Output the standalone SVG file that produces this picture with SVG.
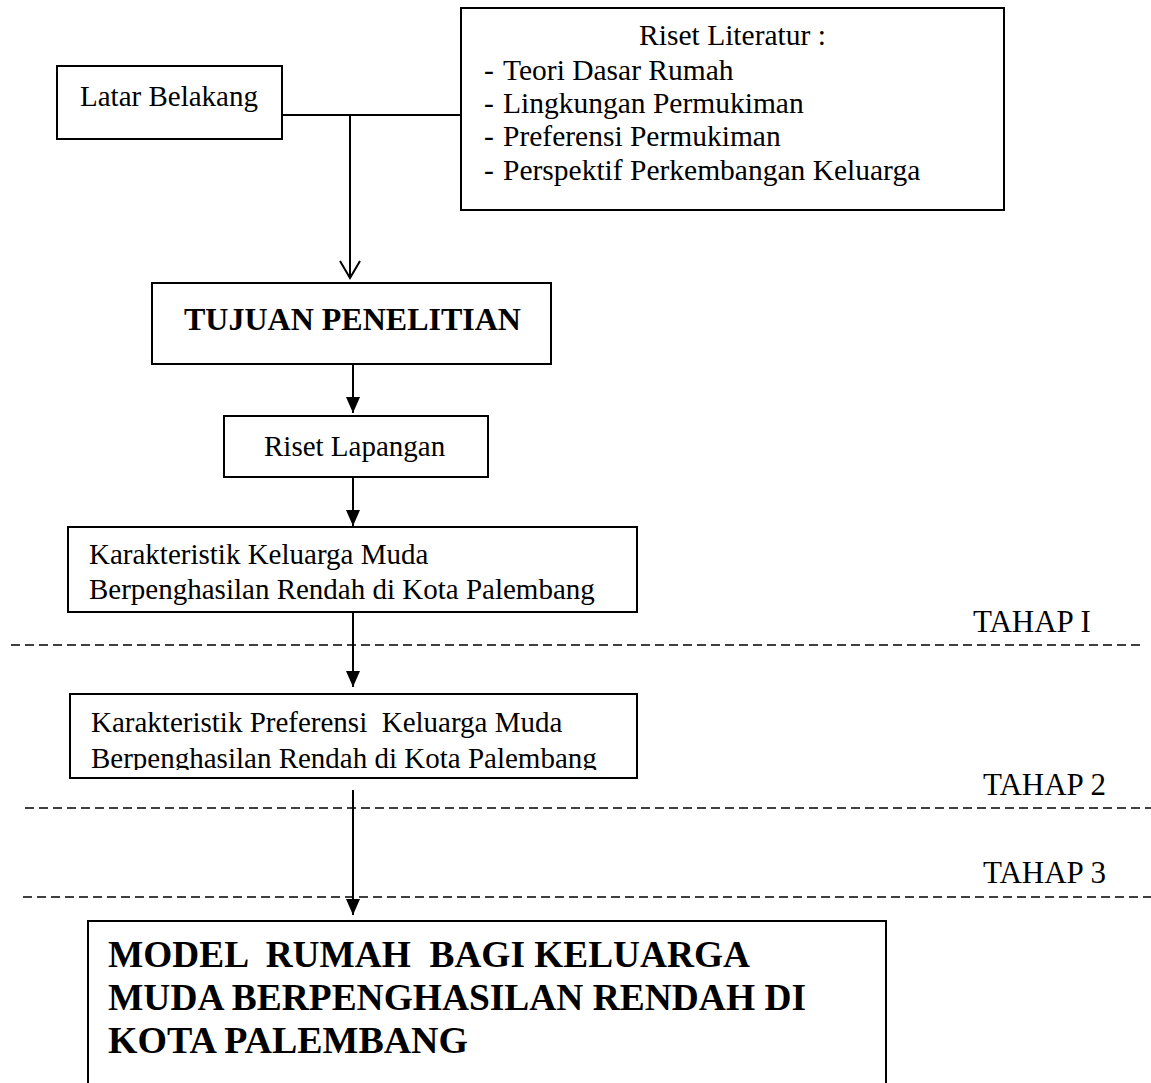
<svg xmlns="http://www.w3.org/2000/svg" width="1151" height="1083" viewBox="0 0 1151 1083">
<style>
.box{fill:#fff;stroke:#000;stroke-width:2}
.t{font-family:"Liberation Serif","Times New Roman",serif;font-size:29px;fill:#000}
.li{font-family:"Liberation Serif","Times New Roman",serif;font-size:29.5px;fill:#000}
.th{font-family:"Liberation Serif","Times New Roman",serif;font-size:31px;fill:#000}
.b{font-family:"Liberation Serif","Times New Roman",serif;font-weight:bold;fill:#000}
.ln{stroke:#000;stroke-width:2;fill:none}
.dash{stroke:#000;stroke-width:1.5;stroke-dasharray:9 5;fill:none}
</style>
<defs>
<marker id="tri" markerUnits="userSpaceOnUse" viewBox="0 0 16 14" markerWidth="16" markerHeight="14" refX="16" refY="7" orient="auto">
<path d="M0,0 L16,7 L0,14 z" fill="#000"/>
</marker>
<marker id="vee" markerUnits="userSpaceOnUse" viewBox="0 0 20 24" markerWidth="20" markerHeight="24" refX="18" refY="12" orient="auto">
<path d="M1,2 L18,12 L1,22" fill="none" stroke="#000" stroke-width="2"/>
</marker>
<clipPath id="clip2"><rect x="70" y="694" width="567" height="76"/></clipPath>
</defs>
<g id="connectors">
<path class="ln" d="M282,115 H461"/>
<path class="ln" d="M350,115 V278" marker-end="url(#vee)"/>
<path class="ln" d="M353,364 V413" marker-end="url(#tri)"/>
<path class="ln" d="M353,477 V526" marker-end="url(#tri)"/>
<path class="ln" d="M353,612 V687" marker-end="url(#tri)"/>
<path class="ln" d="M353,790 V915" marker-end="url(#tri)"/>
</g>
<g id="stages">
<path class="dash" d="M11,645 H1140"/>
<text class="th" x="973" y="632">TAHAP I</text>
<path class="dash" d="M25,808 H1151"/>
<text class="th" x="983" y="795">TAHAP 2</text>
<path class="dash" d="M23,897 H1151"/>
<text class="th" x="983" y="883">TAHAP 3</text>
</g>
<g id="latar">
<rect class="box" x="57" y="66" width="225" height="73"/>
<text class="t" x="80" y="106">Latar Belakang</text>
</g>
<g id="riset-literatur">
<rect class="box" x="461" y="8" width="543" height="202"/>
<text class="li" x="732.5" y="45" text-anchor="middle">Riset Literatur :</text>
<text class="li" x="484" y="80">-</text><text class="li" x="503" y="80">Teori Dasar Rumah</text>
<text class="li" x="484" y="113">-</text><text class="li" x="503" y="113">Lingkungan Permukiman</text>
<text class="li" x="484" y="146">-</text><text class="li" x="503" y="146">Preferensi Permukiman</text>
<text class="li" x="484" y="180">-</text><text class="li" x="503" y="180">Perspektif Perkembangan Keluarga</text>
</g>
<g id="tujuan">
<rect class="box" x="152" y="283" width="399" height="81"/>
<text class="b" x="184" y="330" font-size="32">TUJUAN PENELITIAN</text>
</g>
<g id="riset-lapangan">
<rect class="box" x="224" y="416" width="264" height="61"/>
<text class="t" x="264" y="456">Riset Lapangan</text>
</g>
<g id="karakteristik">
<rect class="box" x="68" y="527" width="569" height="85"/>
<text class="t" x="89" y="564">Karakteristik Keluarga Muda</text>
<text class="t" x="89" y="599">Berpenghasilan Rendah di Kota Palembang</text>
</g>
<g id="preferensi">
<rect class="box" x="70" y="694" width="567" height="84"/>
<text class="t" x="91" y="732" xml:space="preserve">Karakteristik Preferensi  Keluarga Muda</text>
<text class="t" x="91" y="768" clip-path="url(#clip2)">Berpenghasilan Rendah di Kota Palembang</text>
</g>
<g id="model">
<path class="box" d="M88,1090 V921 H886 V1090"/>
<text class="b" x="108" y="967" font-size="37" textLength="642" lengthAdjust="spacingAndGlyphs" xml:space="preserve">MODEL  RUMAH  BAGI KELUARGA</text>
<text class="b" x="108" y="1010" font-size="37" textLength="698" lengthAdjust="spacingAndGlyphs">MUDA BERPENGHASILAN RENDAH DI</text>
<text class="b" x="108" y="1053" font-size="37" textLength="360" lengthAdjust="spacingAndGlyphs">KOTA PALEMBANG</text>
</g>
</svg>
